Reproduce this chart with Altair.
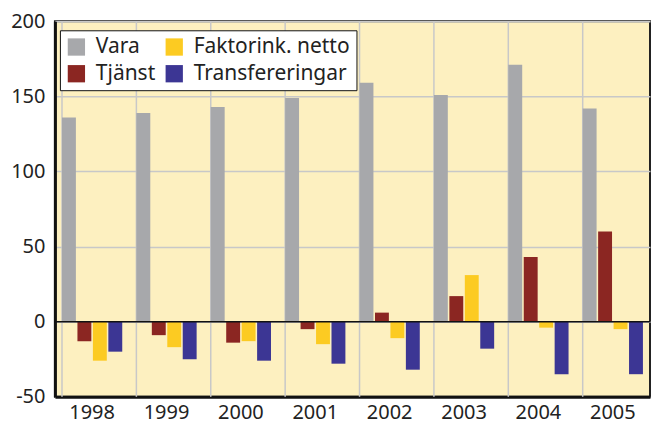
import altair as alt
import pandas as pd

years = ["1998", "1999", "2000", "2001", "2002", "2003", "2004", "2005"]
vara = [136, 139, 143, 149, 159, 151, 171, 142]
tjanst = [-13, -9, -14, -5, 6, 17, 43, 60]
faktor = [-26, -17, -13, -15, -11, 31, -4, -5]
transf = [-20, -25, -26, -28, -32, -18, -35, -35]

series_order = ["Vara", "Tjänst", "Faktorink. netto", "Transfereringar"]
colors = ["#A7A8AB", "#8B2622", "#FCCB22", "#3C3694"]

rows = []
for name, vals in zip(series_order, [vara, tjanst, faktor, transf]):
    for y, v in zip(years, vals):
        rows.append({"year": y, "series": name, "value": v})
df = pd.DataFrame(rows)
grid_df = pd.DataFrame({"year": years})

W, H = 596, 376
FONT = "Noto Sans"

xscale = alt.Scale(domain=years, paddingInner=0.19, paddingOuter=0.095)
yscale = alt.Scale(domain=[-50, 200], nice=False)
xaxis = alt.Axis(labelAngle=0, ticks=False, grid=False, domain=True,
                 domainColor="#111111", domainWidth=3, labelPadding=6)

vgrid = alt.Chart(grid_df).mark_rule(color="#C8C8C8", strokeWidth=1.5).encode(
    x=alt.X("year:N", scale=xscale, bandPosition=0, axis=xaxis, title=None),
    y=alt.value(0),
    y2=alt.value(H),
)

bars = alt.Chart(df).mark_bar().encode(
    x=alt.X("year:N", scale=xscale, title=None, axis=xaxis),
    xOffset=alt.XOffset("series:N", sort=series_order,
                        scale=alt.Scale(domain=series_order, paddingInner=0.1, paddingOuter=0)),
    y=alt.Y("value:Q", scale=yscale, title=None,
            axis=alt.Axis(values=[-50, 0, 50, 100, 150, 200], ticks=False, grid=True,
                          gridColor="#C8C8C8", gridWidth=1.5, domain=True,
                          domainColor="#111111", domainWidth=3, labelPadding=10,
                          labelExpr="'' + datum.value")),
    color=alt.Color("series:N",
                    scale=alt.Scale(domain=series_order, range=colors),
                    legend=alt.Legend(title=None, orient="none", legendX=5, legendY=9,
                                      columns=2, columnPadding=8, rowPadding=5,
                                      symbolType="square", symbolSize=300,
                                      symbolStrokeWidth=0, symbolOpacity=1,
                                      labelFontSize=21, labelFont=FONT, labelColor="#222222",
                                      labelOffset=9, fillColor="white",
                                      strokeColor="#111111", padding=6)),
)

zero = alt.Chart(pd.DataFrame({"z": [0]})).mark_rule(color="#111111", strokeWidth=1.5).encode(
    y=alt.Y("z:Q", scale=yscale)
)

chart = alt.layer(vgrid, bars, zero).properties(
    width=W, height=H,
    padding={"left": 2, "top": 3, "right": 0, "bottom": 5},
).configure_view(
    fill="#FDF0C0", stroke="#222222", strokeWidth=2
).configure_axis(
    labelFont=FONT, labelFontSize=20, labelColor="#222222"
)

chart.save("out.html", embed_options={"renderer": "svg", "actions": False})
